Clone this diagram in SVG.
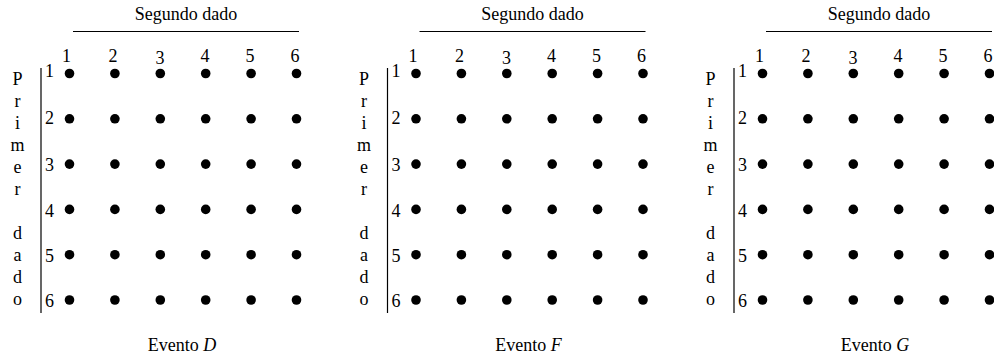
<svg xmlns="http://www.w3.org/2000/svg" xmlns:xlink="http://www.w3.org/1999/xlink" width="994" height="358" viewBox="0 0 994 358" font-family="'Liberation Serif', 'Times New Roman', serif" font-size="18">
<style>
text{font-family:'Liberation Serif','Times New Roman',serif;font-size:18px;fill:#000}
.m{text-anchor:middle}
.ln{stroke:#000;stroke-width:1.2;fill:none}
.d{fill:#000}
</style>
<defs>
<g id="grid">
<text class="m" x="186" y="20">Segundo dado</text>
<line class="ln" x1="73" y1="31.5" x2="299" y2="31.5"/>
<text class="m" x="66.5" y="62">1</text>
<text class="m" x="113" y="62">2</text>
<text class="m" x="160" y="64">3</text>
<text class="m" x="205" y="62">4</text>
<text class="m" x="250" y="62">5</text>
<text class="m" x="295" y="62">6</text>
<line class="ln" x1="41" y1="68" x2="41" y2="313"/>
<text x="45" y="77">1</text>
<text x="45" y="124">2</text>
<text x="45" y="171">3</text>
<text x="45" y="217">4</text>
<text x="45" y="262">5</text>
<text x="45" y="307">6</text>
<text class="m" x="17.5" y="85">P</text>
<text class="m" x="17.5" y="107">r</text>
<text class="m" x="17.5" y="129">i</text>
<text class="m" x="17.5" y="151">m</text>
<text class="m" x="17.5" y="173">e</text>
<text class="m" x="17.5" y="195">r</text>
<text class="m" x="17.5" y="239">d</text>
<text class="m" x="17.5" y="261">a</text>
<text class="m" x="17.5" y="283">d</text>
<text class="m" x="17.5" y="305">o</text>
<g class="d">
<circle cx="69.5" cy="73.5" r="4.8"/><circle cx="114.9" cy="73.5" r="4.8"/><circle cx="160.3" cy="73.5" r="4.8"/><circle cx="205.7" cy="73.5" r="4.8"/><circle cx="251.1" cy="73.5" r="4.8"/><circle cx="296.5" cy="73.5" r="4.8"/>
<circle cx="69.5" cy="118.8" r="4.8"/><circle cx="114.9" cy="118.8" r="4.8"/><circle cx="160.3" cy="118.8" r="4.8"/><circle cx="205.7" cy="118.8" r="4.8"/><circle cx="251.1" cy="118.8" r="4.8"/><circle cx="296.5" cy="118.8" r="4.8"/>
<circle cx="69.5" cy="164.1" r="4.8"/><circle cx="114.9" cy="164.1" r="4.8"/><circle cx="160.3" cy="164.1" r="4.8"/><circle cx="205.7" cy="164.1" r="4.8"/><circle cx="251.1" cy="164.1" r="4.8"/><circle cx="296.5" cy="164.1" r="4.8"/>
<circle cx="69.5" cy="209.4" r="4.8"/><circle cx="114.9" cy="209.4" r="4.8"/><circle cx="160.3" cy="209.4" r="4.8"/><circle cx="205.7" cy="209.4" r="4.8"/><circle cx="251.1" cy="209.4" r="4.8"/><circle cx="296.5" cy="209.4" r="4.8"/>
<circle cx="69.5" cy="254.7" r="4.8"/><circle cx="114.9" cy="254.7" r="4.8"/><circle cx="160.3" cy="254.7" r="4.8"/><circle cx="205.7" cy="254.7" r="4.8"/><circle cx="251.1" cy="254.7" r="4.8"/><circle cx="296.5" cy="254.7" r="4.8"/>
<circle cx="69.5" cy="300" r="4.8"/><circle cx="114.9" cy="300" r="4.8"/><circle cx="160.3" cy="300" r="4.8"/><circle cx="205.7" cy="300" r="4.8"/><circle cx="251.1" cy="300" r="4.8"/><circle cx="296.5" cy="300" r="4.8"/>
</g>
</g>
</defs>
<g id="panelD">
<use xlink:href="#grid" href="#grid"/>
<text class="m" x="182" y="351">Evento <tspan font-style="italic">D</tspan></text>
</g>
<g id="panelF" transform="translate(346.5,0)">
<use xlink:href="#grid" href="#grid"/>
<text class="m" x="182" y="351">Evento <tspan font-style="italic">F</tspan></text>
</g>
<g id="panelG" transform="translate(693,0)">
<use xlink:href="#grid" href="#grid"/>
<text class="m" x="182" y="351">Evento <tspan font-style="italic">G</tspan></text>
</g>
</svg>
